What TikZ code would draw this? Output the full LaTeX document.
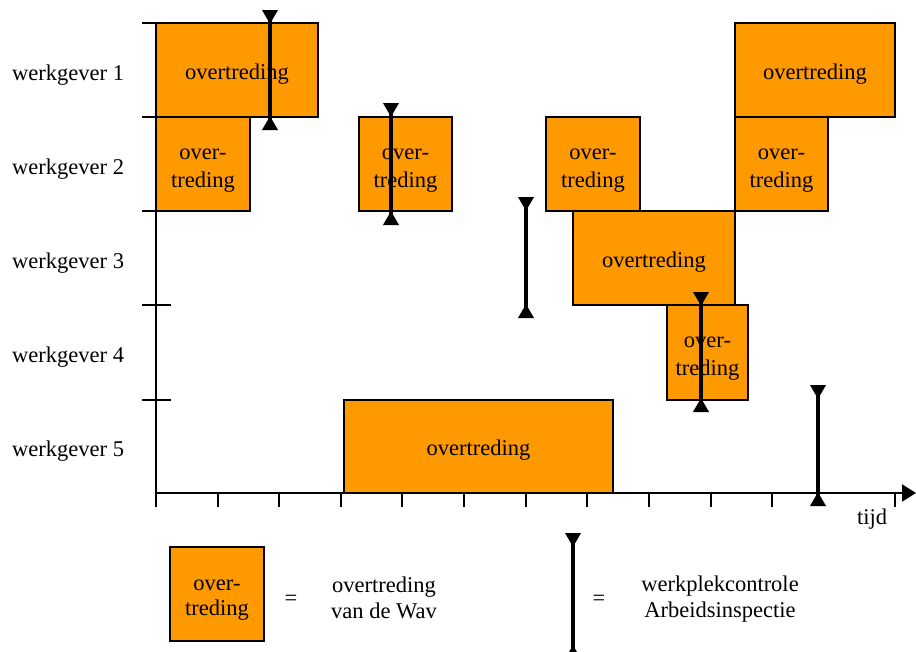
\documentclass[tikz,border=0pt]{standalone}
\usepackage{fontspec}
\setmainfont{Liberation Serif}
\usetikzlibrary{arrows.meta}
\definecolor{ovtorange}{RGB}{255,153,0}

\begin{document}
\begin{tikzpicture}[x=1pt,y=-1pt,
    ovt/.style={draw, line width=1.3pt, fill=ovtorange, inner sep=0pt},
    txt/.style={anchor=base, align=center, font=\fontsize{22.5}{28}\selectfont},
    insp/.style={line width=4.5pt,
        {Triangle[reversed,length=14pt,width=15pt]}-{Triangle[reversed,length=14pt,width=15pt]}},
    lbl/.style={anchor=base, align=center, font=\fontsize{22.5}{25.5}\selectfont}]

\useasboundingbox (0,0) rectangle (916,651);

\coordinate (top) at (156,23);
\coordinate (origin) at (156,493);
\coordinate (end) at (916,493);

\draw [line width=2pt] (top) -- (origin);
\draw [line width=2pt, -{Triangle[length=14pt,width=17pt]}] (origin) -- (end);

\foreach \y in {23,117,211,305,400}
    \draw [line width=1.5pt] (142,\y) -- (171,\y);

\foreach \x in {156,218,279,341,402,464,526,587,649,711,772,895}
    \draw [line width=2pt] (\x,493) -- (\x,507);

\node [lbl] (tijd) at (872,524) {tijd};

\foreach \i/\y in {1/80,2/174,3/268,4/362.5,5/456.5}
    \node [lbl, anchor=base west, inner xsep=0pt] (w\i) at (12,\y) {werkgever \i};

% overtredingen
\foreach \n/\x/\y/\w/\h in {o1/237/70/162/94, o2/815/70/160/94, o3/203/164/94/94,
        o4/405.5/164/93/94, o5/593/164/94/94, o6/781.5/164/93/94,
        o7/654/258/162/94, o8/707.5/352.5/81/95, o9/478.5/446.5/269/93}
    \node [ovt, minimum width=\w pt, minimum height=\h pt] (\n) at (\x,\y) {};

\foreach \n in {o1,o2,o7,o9}
    \node [txt] (\n t) at ([yshift=-9pt]\n) {overtreding};

\foreach \n in {o3,o4,o5,o6,o8}
    \node [txt] (\n t) at ([yshift=-23pt]\n) {over-\\treding};

% controles
\foreach \i/\x/\ya/\yb in {1/270/10/130, 2/391/103/225, 3/526/197/318, 4/701/292/412, 5/818/385/506}
{
    \coordinate (t\i) at (\x,\ya);
    \coordinate (b\i) at (\x,\yb);
    \draw [insp] (t\i) -- (b\i);
}

% legend
\node [ovt, minimum width=94pt, minimum height=94pt] (lbox) at (217,594) {};
\node [lbl] (lboxt) at (217,615.5) {over-\\treding};
\node [lbl] (leq1) at (291,605) {=};
\node [lbl] (ltxt1) at (384,618) {overtreding\\van de Wav};

\coordinate (lt) at (573,533);
\coordinate (lb) at (573,659);
\draw [insp] (lt) -- (lb);
\node [lbl] (leq2) at (599,605) {=};
\node [lbl] (ltxt2) at (720,617) {werkplekcontrole\\Arbeidsinspectie};

\end{tikzpicture}
\end{document}
